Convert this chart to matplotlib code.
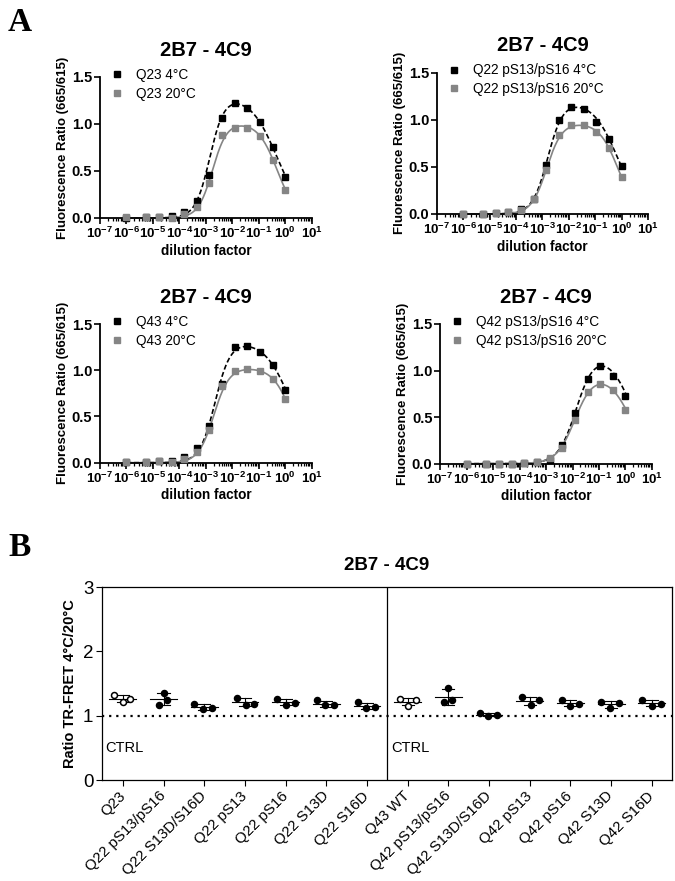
import numpy as np
import matplotlib
matplotlib.use('Agg')
import matplotlib.pyplot as plt
from matplotlib.ticker import LogLocator, NullFormatter

plt.rcParams['font.family'] = ['Liberation Sans', 'DejaVu Sans']
plt.rcParams['mathtext.fontset'] = 'custom'
plt.rcParams['mathtext.rm'] = 'Liberation Sans'
plt.rcParams['mathtext.bf'] = 'Liberation Sans:bold'

# ------------------------------------------------------------
# Panel A: dilution curves
dilution = np.array([1e-6, 5.65e-6, 1.69e-5, 5.08e-5, 1.52e-4, 4.57e-4, 1.37e-3,
                     4.12e-3, 1.23e-2, 3.70e-2, 1.11e-1, 3.33e-1, 1.0])

q23_4c = [0.0, 0.01, 0.01, 0.02, 0.067, 0.18, 0.46, 1.065, 1.22, 1.17, 1.02, 0.75, 0.44]
q23_20c = [0.01, 0.01, 0.01, 0.0, 0.04, 0.12, 0.37, 0.88, 0.96, 0.96, 0.87, 0.62, 0.30]
q22p_4c = [0.0, 0.0, 0.01, 0.02, 0.05, 0.16, 0.52, 1.00, 1.14, 1.11, 0.98, 0.80, 0.51]
q22p_20c = [0.0, 0.0, 0.015, 0.02, 0.04, 0.155, 0.47, 0.84, 0.94, 0.94, 0.87, 0.70, 0.39]
q43_4c = [0.01, 0.01, 0.02, 0.02, 0.06, 0.16, 0.40, 0.85, 1.25, 1.26, 1.20, 1.06, 0.79]
q43_20c = [0.01, 0.01, 0.02, 0.01, 0.04, 0.12, 0.35, 0.83, 0.99, 1.01, 0.99, 0.91, 0.69]
q42p_4c = [0.0, 0.0, 0.0, 0.0, 0.01, 0.02, 0.04, 0.20, 0.54, 0.91, 1.05, 0.94, 0.73]
q42p_20c = [0.0, 0.0, 0.0, 0.0, 0.01, 0.02, 0.06, 0.165, 0.47, 0.77, 0.86, 0.79, 0.58]

# bell-shaped fit parameters (top, logEC1, nH1, logEC2, nH2)
fit_q23_4c = (1.30, -2.85, 1.6, -0.32, 0.875)
fit_q23_20c = (1.02, -2.75, 1.6, -0.31, 1.2)
fit_q22p_4c = (1.20, -2.80, 1.5, -0.157, 0.93)
fit_q22p_20c = (0.97, -2.84, 1.5, -0.142, 1.22)
fit_q43_4c = (1.32, -2.65, 1.5, 0.212, 0.88)
fit_q43_20c = (1.03, -2.70, 1.5, 0.258, 1.19)
fit_q42p_4c = (1.20, -1.85, 1.28, 0.253, 0.95)
fit_q42p_20c = (0.97, -1.90, 1.25, 0.20, 1.0)

series_names = ['Q23', 'Q22 pS13/pS16', 'Q43', 'Q42 pS13/pS16']

decade_ticks = [1e-7, 1e-6, 1e-5, 1e-4, 1e-3, 1e-2, 1e-1, 1e0, 1e1]
decade_labels = [r'$\mathbf{10^{-7}}$', r'$\mathbf{10^{-6}}$', r'$\mathbf{10^{-5}}$',
                 r'$\mathbf{10^{-4}}$', r'$\mathbf{10^{-3}}$', r'$\mathbf{10^{-2}}$',
                 r'$\mathbf{10^{-1}}$', r'$\mathbf{10^{0}}$', r'$\mathbf{10^{1}}$']

# ------------------------------------------------------------
# Panel B: ratio 4°C/20°C, three replicates per construct
constructs = ['Q23', 'Q22 pS13/pS16', 'Q22 S13D/S16D', 'Q22 pS13', 'Q22 pS16',
              'Q22 S13D', 'Q22 S16D', 'Q43 WT', 'Q42 pS13/pS16', 'Q42 S13D/S16D',
              'Q42 pS13', 'Q42 pS16', 'Q42 S13D', 'Q42 S16D']
ratio_reps = [
    [1.33, 1.21, 1.26],
    [1.17, 1.35, 1.25],
    [1.19, 1.10, 1.12],
    [1.28, 1.17, 1.19],
    [1.26, 1.17, 1.20],
    [1.24, 1.16, 1.16],
    [1.21, 1.12, 1.14],
    [1.26, 1.15, 1.25],
    [1.21, 1.43, 1.24],
    [1.04, 1.00, 1.005],
    [1.29, 1.17, 1.24],
    [1.24, 1.15, 1.19],
    [1.21, 1.12, 1.20],
    [1.24, 1.15, 1.19],
]
rep_offsets = [
    [-0.21, 0.0, 0.18], [-0.11, 0.01, 0.09], [-0.25, -0.02, 0.19], [-0.20, 0.02, 0.23],
    [-0.20, 0.0, 0.22], [-0.23, -0.02, 0.18], [-0.22, -0.02, 0.20], [-0.20, 0.0, 0.20],
    [-0.10, 0.0, 0.10], [-0.22, -0.02, 0.19], [-0.19, 0.02, 0.24], [-0.20, 0.0, 0.22],
    [-0.24, -0.03, 0.20], [-0.23, 0.0, 0.22],
]
control_groups = ['Q23', 'Q43 WT']


def bell(x, top, e1, n1, e2, n2):
    lx = np.log10(x)
    return top / (1 + 10 ** ((e1 - lx) * n1)) / (1 + 10 ** ((lx - e2) * n2))


GRAY = '#858585'
fig = plt.figure(figsize=(6.75, 8.81), dpi=100)

rects = [[0.148, 0.7526, 0.314, 0.160],
         [0.6474, 0.7571, 0.3126, 0.1604],
         [0.148, 0.4748, 0.314, 0.1574],
         [0.6519, 0.4737, 0.314, 0.1586]]
data4 = [q23_4c, q22p_4c, q43_4c, q42p_4c]
data20 = [q23_20c, q22p_20c, q43_20c, q42p_20c]
fits4 = [fit_q23_4c, fit_q22p_4c, fit_q43_4c, fit_q42p_4c]
fits20 = [fit_q23_20c, fit_q22p_20c, fit_q43_20c, fit_q42p_20c]

xfit = np.logspace(-6, 0, 300)
for rect, name, y4, y20, f4, f20 in zip(rects, series_names, data4, data20, fits4, fits20):
    ax = fig.add_axes(rect)
    ax.plot(xfit, bell(xfit, *f4), color='black', ls=(0, (3, 1.6)), lw=1.2, clip_on=False)
    ax.plot(xfit, bell(xfit, *f20), color=GRAY, lw=1.2, clip_on=False)
    ax.plot(dilution, y4, 's', color='black', ms=4.8, clip_on=False, zorder=3,
            label=name + ' 4°C')
    ax.plot(dilution, y20, 's', color=GRAY, ms=4.8, clip_on=False, zorder=3,
            label=name + ' 20°C')
    ax.set_xscale('log')
    ax.set_xlim(1e-7, 1e1)
    ax.set_ylim(0, 1.5)
    ax.set_xticks(decade_ticks)
    ax.set_xticklabels(decade_labels, fontsize=9.6)
    ax.xaxis.set_minor_locator(LogLocator(base=10, subs=np.arange(2, 10), numticks=20))
    ax.xaxis.set_minor_formatter(NullFormatter())
    ax.set_yticks([0, 0.5, 1.0, 1.5])
    ax.set_yticklabels(['0.0', '0.5', '1.0', '1.5'], fontsize=10.5, fontweight='bold')
    for s in ['top', 'right']:
        ax.spines[s].set_visible(False)
    for s in ['left', 'bottom']:
        ax.spines[s].set_linewidth(1.3)
    ax.tick_params(which='major', length=4, width=1.2, pad=1.5)
    ax.tick_params(which='minor', length=2.2, width=0.9)
    ax.set_xlabel('dilution factor', fontsize=9.8, fontweight='bold', labelpad=2)
    ax.set_ylabel('Fluorescence Ratio (665/615)', fontsize=9.5, fontweight='bold', labelpad=2)
    ax.text(0.5, 1.19, '2B7 - 4C9', transform=ax.transAxes, ha='center', va='center',
            fontsize=14.5, fontweight='bold')
    ax.legend(loc='upper left', bbox_to_anchor=(0.05, 1.065), frameon=False,
              fontsize=9.8, handlelength=1.0, handletextpad=0.9, labelspacing=0.35,
              borderpad=0, borderaxespad=0, markerscale=1.0)

# ------------------------------------------------------------
axb = fig.add_axes([0.1507, 0.1146, 0.8444, 0.219])
xpos = np.arange(len(constructs))
for i, (name, reps, offs) in enumerate(zip(constructs, ratio_reps, rep_offsets)):
    reps = np.array(reps)
    m = reps.mean()
    sd = reps.std(ddof=1)
    axb.plot([i - 0.33, i + 0.33], [m, m], color='black', lw=0.8, zorder=2)
    axb.plot([i, i], [m - sd, m + sd], color='black', lw=0.8, zorder=2)
    axb.plot([i - 0.15, i + 0.15], [m + sd, m + sd], color='black', lw=0.8, zorder=2)
    axb.plot([i - 0.15, i + 0.15], [m - sd, m - sd], color='black', lw=0.8, zorder=2)
    face = 'white' if name in control_groups else 'black'
    axb.plot(i + np.array(offs), reps, 'o', ms=4.3, mfc=face, mec='black', mew=1.1, zorder=3)

axb.axhline(1.0, color='black', ls=(0, (1, 2.2)), lw=1.6, zorder=1)
axb.axvline(6.5, color='black', lw=0.9)
axb.set_xlim(-0.52, 13.49)
axb.set_ylim(0, 3)
axb.set_yticks([0, 1, 2, 3])
axb.set_yticklabels(['0', '1', '2', '3'], fontsize=13.5)
axb.set_xticks(xpos)
axb.set_xticklabels(constructs, rotation=45, ha='right', va='center',
                    rotation_mode='anchor', fontsize=10.8)
axb.tick_params(axis='x', length=4, width=0.8, pad=6)
axb.tick_params(axis='y', length=4, width=0.8, pad=2)
for s in axb.spines.values():
    s.set_linewidth(0.9)
axb.set_ylabel('Ratio TR-FRET 4°C/20°C', fontsize=10.5, fontweight='bold', labelpad=4)
axb.text(0.5, 1.114, '2B7 - 4C9', transform=axb.transAxes, ha='center', va='center',
         fontsize=13.5, fontweight='bold')
axb.text(-0.44, 0.5, 'CTRL', ha='left', va='center', fontsize=10.5)
axb.text(6.59, 0.5, 'CTRL', ha='left', va='center', fontsize=10.5)

# panel letters
fig.text(0.012, 0.975, 'A', fontsize=24, fontweight='bold', family='Liberation Serif',
         ha='left', va='center')
fig.text(0.012, 0.378, 'B', fontsize=24, fontweight='bold', family='Liberation Serif',
         ha='left', va='center')

fig.savefig('out.png', dpi=100)
